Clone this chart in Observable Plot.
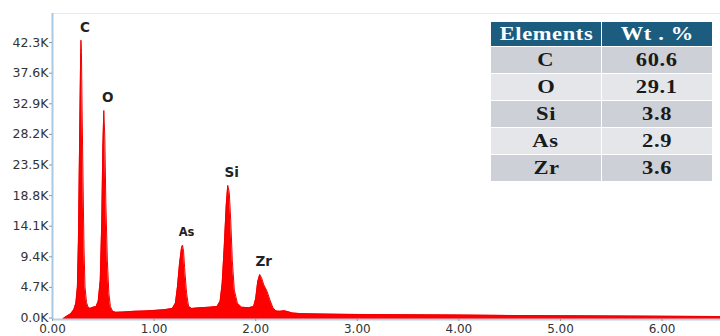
<!DOCTYPE html>
<html>
<head>
<meta charset="utf-8">
<script src="https://cdn.jsdelivr.net/npm/d3@7"></script>
<script src="https://cdn.jsdelivr.net/npm/@observablehq/plot@0.6"></script>
<style>
  html, body { margin: 0; padding: 0; background: #fff; overflow: hidden; }
  #wrap { position: relative; width: 720px; height: 336px; }
  #tbl { position: absolute; left: 490px; top: 21px; width: 223px; border-collapse: collapse;
         font-family: "Liberation Serif", "Times New Roman", serif; font-weight: bold; font-size: 18px; }
  #tbl td, #tbl th { border: 1px solid #fff; text-align: center; padding: 0; width: 50%; line-height: 1; }
  #tbl th { background: #1c5d7f; color: #fff; height: 24px; }
  #tbl td { height: 26px; color: #1a1a1a; }
  #tbl tr.dark td { background: #cdd0d6; }
  #tbl tr.light td { background: #e4e6e9; }
  #tbl span { display: inline-block; transform: scaleX(1.25); letter-spacing: 0.5px; }
</style>
</head>
<body>
<div id="wrap">
  <div id="chart"></div>
  <table id="tbl"></table>
</div>
<script>
// EDS spectrum: energy (keV) and counts
const energy = [0.10,0.11,0.14,0.18,0.21,0.23,0.245,0.255,0.265,0.275,0.28,0.285,0.29,0.30,0.31,0.32,0.335,0.35,0.37,0.40,0.43,0.45,0.47,0.485,0.495,0.505,0.515,0.525,0.54,0.555,0.57,0.59,0.62,0.70,0.80,0.90,1.00,1.10,1.18,1.21,1.23,1.25,1.27,1.28,1.29,1.30,1.32,1.34,1.37,1.45,1.55,1.62,1.65,1.67,1.69,1.71,1.725,1.74,1.755,1.77,1.79,1.82,1.86,1.93,1.98,2.00,2.02,2.04,2.06,2.08,2.11,2.14,2.17,2.20,2.24,2.28,2.32,2.36,2.45,2.60,2.80,3.00,3.50,4.00,4.50,5.00,5.50,6.00,6.575];
const counts = [0,200,500,900,1500,2500,5000,12000,25000,38000,42900,41000,34000,22000,11000,5000,2600,1900,1700,1900,2000,2800,6000,15000,26000,32100,28000,18000,9000,4000,2000,1300,1100,1150,1250,1300,1400,1500,1700,2500,5000,8500,11000,11400,10500,8000,4000,2000,1700,1800,1900,2000,2800,5500,11000,17500,20600,19500,15000,9000,4500,2500,1900,1800,2000,3200,5800,6900,6300,5300,4400,3000,1800,1300,1250,1350,1200,1000,900,850,800,780,720,680,620,580,540,500,450];

// Peak labels
const peakNames = ["C","O","As","Si","Zr"];
const peakEnergy = [0.28,0.505,1.28,1.725,2.04];
const peakCounts = [42900,32100,11400,20600,6900];

// Axis ticks
const xTicks = [0,1,2,3,4,5,6];
const yTicks = [0,4700,9400,14100,18800,23500,28200,32900,37600,42300];

// Table
const elements = ["C","O","Si","As","Zr"];
const wtPercent = [60.6,29.1,3.8,2.9,3.6];
const tableHeader = ["Elements","Wt . %"];

const spectrum = energy.map((e,i) => ({e, c: counts[i]}));
const peaks = peakNames.map((n,i) => ({n, e: peakEnergy[i], c: peakCounts[i]}));

const chart = Plot.plot({
  width: 720, height: 336,
  marginLeft: 52, marginRight: 0, marginTop: 13, marginBottom: 17,
  style: {fontFamily: "DejaVu Sans", fontSize: "12.5px", color: "#333", background: "#fff"},
  x: {domain: [0, 6.575]},
  y: {domain: [0, 47000]},
  marks: [
    Plot.ruleY([47000], {stroke: "#e4edf2", strokeWidth: 1}),
    Plot.areaY(spectrum, {x: "e", y: "c", fill: "#ff0000", curve: "linear"}),
    Plot.lineY(spectrum, {x: "e", y: "c", stroke: "#f00000", strokeWidth: 1, curve: "linear"}),
    Plot.ruleY([0], {stroke: "#b3d0e6", strokeWidth: 2}),
    Plot.ruleX([0], {stroke: "#a9c9e2", strokeWidth: 2}),
    Plot.axisY({ticks: yTicks, tickFormat: d => (d/1000).toFixed(1) + "K", tickSize: 3, tickPadding: 1,
                stroke: "#999", fill: "#333", dy: -1.5, label: null}),
    Plot.axisX({ticks: xTicks, tickFormat: d => d.toFixed(2), tickSize: 2, tickPadding: 3,
                stroke: "#999", fill: "#333", fontSize: 12, label: null}),
    Plot.text(peaks, {x: "e", y: "c", text: "n", dx: 4, dy: -13, fill: "#222",
                      fontWeight: "bold", fontSize: d => d.n === "As" ? 11.5 : 13.5,
                      textAnchor: "middle", lineAnchor: "middle"})
  ]
});
document.getElementById("chart").appendChild(chart);

const tbl = d3.select("#tbl");
tbl.append("tr").selectAll("th").data(tableHeader).join("th")
  .append("span").text(d => d);
elements.forEach((el, i) => {
  const tr = tbl.append("tr").attr("class", i % 2 === 0 ? "dark" : "light");
  tr.append("td").append("span").text(el);
  tr.append("td").append("span").text(wtPercent[i].toFixed(1));
});
</script>
</body>
</html>
